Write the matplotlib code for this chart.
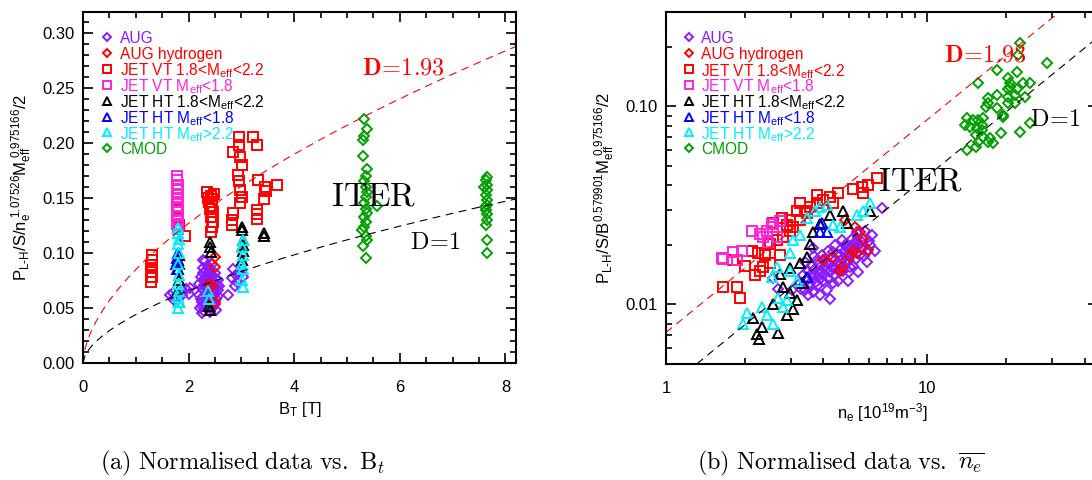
import numpy as np
import matplotlib
matplotlib.use("Agg")
import matplotlib.pyplot as plt
from matplotlib.ticker import MultipleLocator, FixedLocator, FixedFormatter, LogLocator, NullFormatter

plt.rcParams["font.family"] = "Liberation Sans"
plt.rcParams["mathtext.fontset"] = "custom"
plt.rcParams["mathtext.rm"] = "Liberation Sans"
plt.rcParams["mathtext.it"] = "Liberation Sans:italic"
plt.rcParams["mathtext.bf"] = "Liberation Sans:bold"

# ---------------- panel (a): normalised value vs B_T ----------------
bt_aug = [1.65, 1.70, 1.75, 1.80, 1.85, 1.88, 1.90, 1.95, 2.00, 2.03, 1.72,
          2.22, 2.25, 2.28, 2.30, 2.32, 2.27, 2.35, 2.40, 2.45, 2.38, 2.42, 2.48, 2.52, 2.35,
          2.30, 2.40, 2.45, 2.50, 2.55, 2.55, 2.50, 2.33, 2.37, 2.25, 2.20, 2.20, 2.28, 2.43,
          2.47, 2.36, 2.31, 2.42, 2.52, 2.26, 2.58, 2.33, 2.39, 2.44, 2.29, 2.49, 2.28,
          2.24, 2.34, 2.41, 2.46, 2.53, 2.27, 2.36, 2.44, 2.51, 2.23, 2.32, 2.40, 2.48, 2.30,
          2.38, 2.46, 2.26, 2.35, 2.43, 2.56,
          2.75, 2.82, 2.85, 2.90, 2.95, 2.98, 3.00, 3.03, 2.92, 2.88]
y_aug_bt = [0.062, 0.064, 0.060, 0.058, 0.066, 0.062, 0.065, 0.067, 0.063, 0.068, 0.057,
            0.050, 0.055, 0.060, 0.065, 0.070, 0.075, 0.080, 0.085, 0.090, 0.075, 0.068, 0.062, 0.058, 0.052,
            0.047, 0.046, 0.050, 0.054, 0.066, 0.075, 0.082, 0.058, 0.063, 0.068, 0.062, 0.072, 0.082, 0.078,
            0.072, 0.088, 0.093, 0.055, 0.048, 0.045, 0.070, 0.076, 0.070, 0.060, 0.053, 0.066, 0.094,
            0.058, 0.067, 0.073, 0.079, 0.071, 0.086, 0.060, 0.064, 0.076, 0.078, 0.084, 0.057, 0.069, 0.071,
            0.081, 0.056, 0.052, 0.073, 0.049, 0.061,
            0.062, 0.077, 0.085, 0.080, 0.083, 0.082, 0.088, 0.078, 0.074, 0.070]

bt_augh = [2.50, 2.50, 2.38, 2.50, 2.45]
y_augh_bt = [0.096, 0.087, 0.072, 0.055, 0.070]

bt_vt = [1.30, 1.30, 1.28, 1.30, 1.28, 1.30, 1.29,
         1.80, 1.80, 1.82, 1.93,
         2.35, 2.42, 2.45, 2.38, 2.44, 2.40, 2.46, 2.42, 2.47, 2.44, 2.43, 2.48, 2.36,
         2.95, 2.95, 2.84, 2.97, 3.01, 2.93, 2.95, 2.97, 3.01, 2.97, 2.84, 2.82, 2.82,
         3.22, 3.30, 3.32, 3.45, 3.47, 3.43, 3.30, 3.30, 3.30, 3.68]
y_vt_bt = [0.098, 0.094, 0.089, 0.086, 0.083, 0.078, 0.074,
           0.139, 0.132, 0.125, 0.115,
           0.155, 0.152, 0.149, 0.146, 0.143, 0.140, 0.137, 0.133, 0.128, 0.124, 0.119, 0.154, 0.150,
           0.205, 0.198, 0.192, 0.187, 0.180, 0.171, 0.165, 0.157, 0.151, 0.145, 0.136, 0.130, 0.125,
           0.205, 0.198, 0.166, 0.160, 0.156, 0.149, 0.139, 0.135, 0.131, 0.162]

bt_vt_low = [1.78, 1.78, 1.80, 1.78, 1.80, 1.78, 1.80, 1.78, 1.80, 1.78, 1.80, 1.78, 1.80]
y_vt_low_bt = [0.170, 0.166, 0.162, 0.158, 0.154, 0.150, 0.146, 0.142, 0.138, 0.134, 0.130, 0.126, 0.122]

bt_ht = [1.81, 1.80, 1.82, 1.80, 1.81, 1.80, 1.82,
         2.41, 2.41, 2.43, 2.41, 2.38,
         3.01, 3.01, 3.03, 3.03, 3.03, 3.01,
         3.43, 3.43]
y_ht_bt = [0.098, 0.094, 0.090, 0.085, 0.075, 0.065, 0.055,
           0.110, 0.105, 0.101, 0.048, 0.052,
           0.124, 0.121, 0.112, 0.107, 0.102, 0.094,
           0.118, 0.115]

bt_ht_low = [1.78, 1.77, 1.78, 1.79]
y_ht_low_bt = [0.095, 0.090, 0.085, 0.100]

bt_ht_high = [1.80, 1.80, 1.81, 1.80, 1.82, 1.80, 1.81, 1.80, 1.82, 1.80, 1.81, 1.80,
              3.03, 3.01, 3.03, 3.01, 3.03, 3.01, 3.03, 2.38, 2.36]
y_ht_high_bt = [0.123, 0.118, 0.113, 0.108, 0.100, 0.090, 0.080, 0.072, 0.065, 0.060, 0.055, 0.050,
                0.112, 0.105, 0.098, 0.090, 0.085, 0.075, 0.069, 0.058, 0.065]

bt_cmod = [5.33, 5.37, 5.33, 5.31, 5.31, 5.37, 5.35, 5.33, 5.35, 5.37, 5.35, 5.33, 5.37, 5.35,
           5.33, 5.29, 5.35, 5.37, 5.31, 5.35, 5.57, 5.35, 5.33,
           7.66, 7.63, 7.65, 7.66, 7.63, 7.65, 7.66, 7.63, 7.65, 7.66, 7.63, 7.65, 7.65, 7.60, 7.62]
y_cmod_bt = [0.222, 0.213, 0.206, 0.203, 0.188, 0.176, 0.170, 0.165, 0.160, 0.155, 0.151, 0.145, 0.136, 0.128,
             0.124, 0.121, 0.115, 0.112, 0.106, 0.095, 0.143, 0.140, 0.133,
             0.169, 0.166, 0.162, 0.157, 0.153, 0.148, 0.144, 0.139, 0.135, 0.130, 0.125, 0.112, 0.100, 0.160, 0.142]

# ---------------- panel (b): normalised value vs n_e ----------------
ne_aug = [3.26, 3.35, 3.41, 3.50, 3.56, 3.62, 3.66, 3.72, 3.79, 3.82, 3.89, 3.96, 4.00, 4.06, 4.13,
          4.17, 4.25, 4.32, 4.36, 4.44, 4.48, 4.56, 4.64, 4.73, 4.77, 4.85, 4.94, 4.98, 5.07, 5.16,
          5.21, 5.30, 5.39, 5.44, 5.54, 5.64, 5.78, 5.89, 6.05, 6.16, 6.32, 3.66, 3.41, 3.89, 4.25,
          3.45, 3.60, 3.70, 3.85, 3.95, 4.05, 4.15, 4.20, 4.30, 4.40, 4.50, 4.60, 4.70, 4.80, 4.90,
          5.00, 5.10, 5.20, 5.35, 5.50, 5.60, 5.70, 3.30, 3.55, 3.75, 4.00, 4.45, 4.70, 5.00, 5.25,
          3.70, 3.90, 4.10, 4.35, 4.55, 4.85, 5.05, 5.40, 5.90, 6.00,
          2.57, 2.69, 3.03, 3.50, 6.72]
y_aug_ne = [0.0128, 0.0140, 0.0118, 0.0148, 0.0129, 0.0157, 0.0115, 0.0140, 0.0167, 0.0125, 0.0148, 0.0177,
            0.0132, 0.0157, 0.0118, 0.0187, 0.0145, 0.0171, 0.0128, 0.0199, 0.0152, 0.0132, 0.0177, 0.0211,
            0.0148, 0.0163, 0.0192, 0.0132, 0.0177, 0.0215, 0.0157, 0.0192, 0.0231, 0.0145, 0.0177, 0.0206,
            0.0236, 0.0163, 0.0199, 0.0223, 0.0187, 0.0192, 0.0163, 0.0111, 0.0107,
            0.0135, 0.0140, 0.0150, 0.0160, 0.0145, 0.0170, 0.0160, 0.0135, 0.0155, 0.0165, 0.0180, 0.0160,
            0.0170, 0.0185, 0.0175, 0.0165, 0.0195, 0.0185, 0.0170, 0.0200, 0.0190, 0.0175, 0.0120, 0.0122,
            0.0130, 0.0140, 0.0140, 0.0150, 0.0145, 0.0205,
            0.0175, 0.0135, 0.0150, 0.0185, 0.0150, 0.0200, 0.0155, 0.0210, 0.0185, 0.0210,
            0.0136, 0.0120, 0.0118, 0.0111, 0.0306]

ne_augh = [4.85, 5.30, 5.54, 5.69, 5.94, 5.21, 5.07, 4.64, 4.73, 4.36, 4.00, 5.39]
y_augh_ne = [0.0266, 0.0245, 0.0231, 0.0215, 0.0189, 0.0187, 0.0173, 0.0148, 0.0154, 0.0173, 0.0167, 0.0181]

ne_vt = [1.65, 1.87, 1.92, 1.81, 2.29, 2.35, 2.25, 2.39, 2.50, 2.73, 2.66, 2.81, 2.99, 2.57, 2.78,
         2.99, 3.18, 3.26, 3.41, 3.56, 3.79, 4.00, 4.36, 4.56, 5.21, 5.64, 5.69, 5.94, 6.43, 3.26,
         3.07, 2.91, 3.47, 3.79, 4.25, 2.50, 2.19, 2.14, 2.01]
y_vt_ne = [0.0122, 0.0123, 0.0108, 0.0167, 0.0148, 0.0154, 0.0181, 0.0177, 0.0203, 0.0177, 0.0211, 0.0218,
           0.0236, 0.0259, 0.0272, 0.0266, 0.0298, 0.0324, 0.0298, 0.0309, 0.0355, 0.0335, 0.0324, 0.0364,
           0.0385, 0.0390, 0.0364, 0.0399, 0.0433, 0.0266, 0.0245, 0.0251, 0.0288, 0.0327, 0.0347,
           0.0161, 0.0140, 0.0187, 0.0157]

ne_vt_low = [1.64, 1.65, 1.81, 1.87, 1.95, 2.14, 2.29, 2.35, 2.44, 2.46, 2.57, 2.66, 2.55, 2.73]
y_vt_low_ne = [0.0171, 0.0169, 0.0183, 0.0167, 0.0187, 0.0234, 0.0228, 0.0218, 0.0236, 0.0206, 0.0245,
               0.0218, 0.0256, 0.0265]

ne_ht = [2.15, 2.23, 2.33, 2.57, 2.69, 2.91, 2.99, 3.18, 3.35, 2.73, 2.99, 3.26, 3.47, 3.56, 3.66,
         3.89, 4.25, 4.77, 6.05, 4.94, 2.81, 2.27, 3.07]
y_ht_ne = [0.0085, 0.0071, 0.0077, 0.0101, 0.0072, 0.0088, 0.0114, 0.0105, 0.0128, 0.0143, 0.0152, 0.0161,
           0.0173, 0.0203, 0.0231, 0.0256, 0.0282, 0.0298, 0.0298, 0.0259, 0.0122, 0.0067, 0.0095]

ne_ht_low = [3.96, 3.89, 4.13, 3.47]
y_ht_low_ne = [0.0259, 0.0231, 0.0231, 0.0137]

ne_ht_high = [2.04, 1.97, 2.33, 2.44, 2.57, 2.81, 2.55, 2.66, 2.99, 2.99, 3.07, 3.26, 3.47, 3.72, 3.89,
              4.13, 4.36, 4.64, 5.39, 5.69, 6.05, 2.91, 2.69, 3.18]
y_ht_high_ne = [0.0090, 0.0080, 0.0097, 0.0088, 0.0080, 0.0097, 0.0137, 0.0154, 0.0148, 0.0181, 0.0211,
                0.0223, 0.0272, 0.0298, 0.0309, 0.0316, 0.0251, 0.0245, 0.0282, 0.0298, 0.0324, 0.0105,
                0.0108, 0.0132]

ne_cmod = [22.7, 22.3, 18.5, 15.7, 20.3, 22.1, 20.8, 23.3, 24.8, 20.3, 22.1, 17.0, 18.5, 20.3, 21.7,
           23.7, 17.1, 16.7, 18.5, 20.3, 21.7, 14.2, 15.0, 15.7, 16.4, 14.0, 14.6, 15.5, 16.2, 15.3,
           16.4, 17.4, 15.7, 17.0, 14.2, 15.3, 17.9, 19.1, 19.5, 22.7, 24.8, 28.8, 19.5, 16.2, 20.8]
y_cmod_ne = [0.208, 0.181, 0.152, 0.132, 0.140, 0.149, 0.132, 0.132, 0.132, 0.123, 0.123, 0.110, 0.114,
             0.111, 0.114, 0.111, 0.104, 0.0989, 0.0977, 0.104, 0.104, 0.0870, 0.0850, 0.0850, 0.0870,
             0.0802, 0.0783, 0.0774, 0.0756, 0.0714, 0.0697, 0.0689, 0.0658, 0.0658, 0.0600, 0.0621,
             0.0650, 0.0731, 0.0880, 0.0739, 0.0821, 0.165, 0.0901, 0.0802, 0.125]

# model lines: value = coef * D * x^exp
d_values = [1.0, 1.93]
bt_coef, bt_exp = 0.044, 0.58
ne_coef, ne_exp = 0.00374, 1.075

series = [
    ("AUG", "#8c1aff", "D", bt_aug, y_aug_bt, ne_aug, y_aug_ne),
    ("AUG hydrogen", "#ff0000", "D", bt_augh, y_augh_bt, ne_augh, y_augh_ne),
    (r"JET VT 1.8<M$_{\rm eff}$<2.2", "#ff0000", "s", bt_vt, y_vt_bt, ne_vt, y_vt_ne),
    (r"JET VT M$_{\rm eff}$<1.8", "#ff22dd", "s", bt_vt_low, y_vt_low_bt, ne_vt_low, y_vt_low_ne),
    (r"JET HT 1.8<M$_{\rm eff}$<2.2", "#000000", "^", bt_ht, y_ht_bt, ne_ht, y_ht_ne),
    (r"JET HT M$_{\rm eff}$<1.8", "#0000ff", "^", bt_ht_low, y_ht_low_bt, ne_ht_low, y_ht_low_ne),
    (r"JET HT M$_{\rm eff}$>2.2", "#00f0ff", "^", bt_ht_high, y_ht_high_bt, ne_ht_high, y_ht_high_ne),
    ("CMOD", "#00a000", "D", bt_cmod, y_cmod_bt, ne_cmod, y_cmod_ne),
]
msize = {"D": 5.2, "s": 7.0, "^": 7.0}

fig = plt.figure(figsize=(10.92, 4.8), dpi=100)
ax1 = fig.add_axes([83 / 1092, 117 / 480, 433 / 1092, 351 / 480])
ax2 = fig.add_axes([666 / 1092, 116 / 480, 432 / 1092, 352 / 480])

for label, color, mk, bx, by, nx, ny in series:
    kw = dict(ls="none", marker=mk, mfc="none", mec=color, mew=1.4, ms=msize[mk])
    ax1.plot(bx, by, **kw)
    ax2.plot(nx, ny, **kw)

# dashed scaling curves
bgrid = np.linspace(0, 8.2, 200)
ngrid = np.logspace(0, np.log10(45), 100)
for d, col in zip(d_values, ["black", "red"]):
    ax1.plot(bgrid, bt_coef * d * bgrid ** bt_exp, color=col, lw=0.8, dashes=(7, 5))
    ax2.plot(ngrid, ne_coef * d * ngrid ** ne_exp, color=col, lw=0.8, dashes=(7, 5))

# hand-placed legend (IDL style: symbol + coloured label)
for ax, mx, tx, h in ((ax1, 0.055, 0.086, 351), (ax2, 0.053, 0.081, 352)):
    for i, (label, color, mk, *_) in enumerate(series):
        yy = 1 - (25 + 15.9 * i) / h
        ax.plot([mx], [yy], transform=ax.transAxes, ls="none", marker=mk, mfc="none",
                mec=color, mew=1.4, ms=msize[mk] * 0.8, clip_on=False)
        ax.text(tx, yy, label, transform=ax.transAxes, color=color, fontsize=11.2,
                ha="left", va="center_baseline")

# serif annotations
cm = dict(math_fontfamily="cm")
ax1.text(6.07, 0.268, r"$\mathbf{D\!=\!1.93}$", color="red", fontsize=17.5, ha="center", va="center", **cm)
ax1.text(5.5, 0.151, r"$\mathrm{ITER}$", color="black", fontsize=24, ha="center", va="center", **cm)
ax1.text(6.67, 0.109, r"$\mathrm{D\!=\!1}$", color="black", fontsize=17.5, ha="center", va="center", **cm)
ax2.text(16.7, 0.181, r"$\mathbf{D\!=\!1.93}$", color="red", fontsize=17.5, ha="center", va="center", **cm)
ax2.text(9.4, 0.0413, r"$\mathrm{ITER}$", color="black", fontsize=24, ha="center", va="center", **cm)
ax2.text(30.9, 0.0852, r"$\mathrm{D\!=\!1}$", color="black", fontsize=17.5, ha="center", va="center", **cm)

# axes (a)
ax1.set_xlim(0, 8.2)
ax1.set_ylim(0, 0.319)
ax1.xaxis.set_major_locator(MultipleLocator(2))
ax1.xaxis.set_minor_locator(MultipleLocator(0.5))
ax1.yaxis.set_major_locator(MultipleLocator(0.05))
ax1.yaxis.set_minor_locator(MultipleLocator(0.01))
ax1.yaxis.set_major_formatter(plt.FuncFormatter(lambda v, p: f"{v:.2f}"))
ax1.set_xlabel(r"B$_{\rm T}$ [T]", fontsize=12, labelpad=4)
ax1.set_ylabel(r"P$_{\rm L\text{-}H}$/S/n$_{\rm e}^{\ 1.07526}$M$_{\rm eff}^{\ 0.975166}$/2", fontsize=12, labelpad=6)

# axes (b)
ax2.set_xscale("log")
ax2.set_yscale("log")
ax2.set_xlim(1, 45)
ax2.set_ylim(0.005, 0.3)
ax2.xaxis.set_major_locator(FixedLocator([1, 10]))
ax2.xaxis.set_major_formatter(FixedFormatter(["1", "10"]))
ax2.xaxis.set_minor_locator(LogLocator(base=10, subs=np.arange(2, 10)))
ax2.xaxis.set_minor_formatter(NullFormatter())
ax2.yaxis.set_major_locator(FixedLocator([0.01, 0.1]))
ax2.yaxis.set_major_formatter(FixedFormatter(["0.01", "0.10"]))
ax2.yaxis.set_minor_locator(LogLocator(base=10, subs=np.arange(2, 10)))
ax2.yaxis.set_minor_formatter(NullFormatter())
ax2.set_xlabel(r"n$_{\rm e}$ [10$^{19}$m$^{-3}$]", fontsize=12, labelpad=4)
ax2.set_ylabel(r"P$_{\rm L\text{-}H}$/S/B$^{0.579901}$M$_{\rm eff}^{\ 0.975166}$/2", fontsize=12, labelpad=6)

for ax in (ax1, ax2):
    for sp in ax.spines.values():
        sp.set_linewidth(1.5)
    ax.tick_params(which="both", direction="in", top=True, right=True, labelsize=12, width=1.2)
    ax.tick_params(which="major", length=7)
    ax.tick_params(which="minor", length=4)
    ax.tick_params(axis="x", which="major", pad=12)
    ax.tick_params(axis="y", which="major", pad=6)

fig.text(243 / 1092, 1 - 463 / 480, r"$\mathrm{(a)\ Normalised\ data\ vs.\ B}_t$",
         fontsize=17.5, ha="center", va="center", **cm)
fig.text(841 / 1092, 1 - 463 / 480, r"$\mathrm{(b)\ Normalised\ data\ vs.\ }\overline{n_e}$",
         fontsize=17.5, ha="center", va="center", **cm)

fig.savefig("out.png", dpi=100)
